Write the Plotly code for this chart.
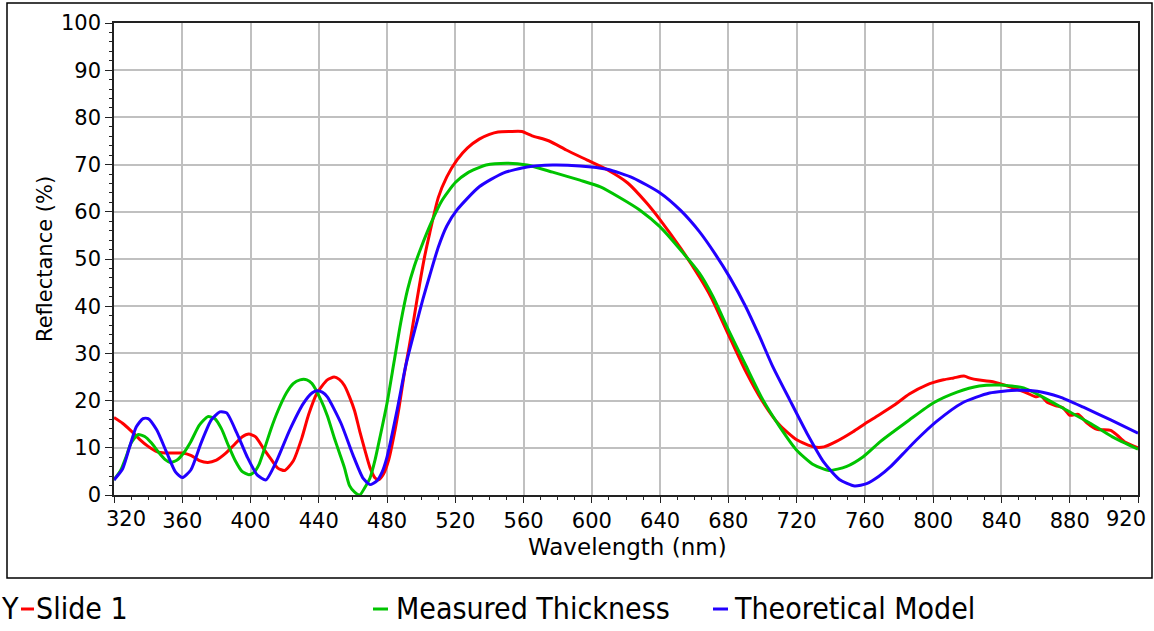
import plotly.graph_objects as go

# ---- data ----
slide1_x = [320, 325, 330, 335, 340, 345, 350, 355, 360, 365, 370, 375, 380, 385, 390, 395, 399, 403, 408, 412,
            416, 420, 425, 430, 434, 439, 445, 449, 452, 455, 458, 461, 464, 467, 470, 473, 475, 478, 481, 484,
            487, 490, 493, 496, 499, 502, 505, 510, 515, 521, 527, 534, 540, 545, 552, 559, 565, 575, 585, 597,
            609, 621, 632, 640, 652, 663, 670, 680, 690, 700, 710, 720, 730, 736, 743, 753, 760, 768, 777, 786,
            796, 806, 812, 818, 822, 826, 835, 845, 855, 860, 863, 867, 872, 876, 880, 885, 890, 896, 904, 908,
            912, 920]
slide1_y = [16.4, 15.2, 13.6, 11.8, 10.3, 9.2, 8.9, 8.9, 8.9, 8.4, 7.3, 6.9, 7.4, 8.7, 10.5, 12.3, 12.9, 12.3, 9.6, 7.6,
            5.7, 5.2, 7.2, 12.0, 17.0, 21.6, 24.4, 25.0, 24.5, 23.2, 20.8, 17.8, 13.5, 9.5, 5.8, 3.6, 3.2, 4.5, 7.5, 12.5,
            18.5, 25.5, 31.5, 38.0, 44.5, 50.5, 55.5, 63.0, 67.4, 71.0, 73.5, 75.4, 76.4, 76.9, 77.0, 77.0, 76.1, 75.0, 73.1, 71.0,
            68.9, 66.1, 61.9, 58.3, 52.3, 46.2, 41.8, 34.0, 26.3, 19.8, 14.8, 11.7, 10.2, 10.2, 11.3, 13.4, 15.1, 16.9, 19.0, 21.4,
            23.3, 24.4, 24.8, 25.2, 24.7, 24.4, 24.0, 22.9, 21.6, 20.8, 21.0, 19.6, 18.9, 18.5, 16.9, 17.1, 15.3, 13.9, 13.7, 12.6,
            11.3, 10.0]

measured_x = [320, 324, 327, 330, 334, 338, 342, 346, 350, 353, 357, 361, 365, 370, 375, 379, 383, 387, 391, 395,
              399, 402, 405, 408, 412, 416, 421, 425, 429, 433, 436, 441, 445, 449, 452, 455, 458, 461, 464, 467,
              470, 473, 476, 480, 484, 488, 492, 496, 500, 506, 512, 520, 527, 538, 550, 562, 577, 593, 605, 616,
              628, 640, 652, 663, 671, 680, 690, 700, 710, 720, 730, 739, 749, 759, 769, 777, 786, 800, 814, 827,
              839, 853, 864, 878, 892, 905, 920]
measured_y = [3.2, 5.3, 8.0, 11.0, 12.8, 12.4, 11.0, 9.1, 7.5, 6.9, 7.4, 9.0, 11.3, 14.8, 16.6, 16.2, 14.0, 10.5, 7.3, 5.0,
              4.3, 4.8, 6.5, 9.6, 14.0, 17.8, 21.6, 23.6, 24.4, 24.4, 23.6, 20.3, 16.8, 12.2, 9.0, 5.8, 2.0, 0.6, 0.0, 1.6,
              3.6, 7.5, 12.5, 19.5, 28.0, 36.5, 43.5, 48.5, 52.5, 57.8, 62.3, 66.2, 68.2, 69.9, 70.3, 69.9, 68.4, 66.7, 65.3, 63.1,
              60.4, 56.8, 51.9, 47.0, 42.0, 35.0, 27.6, 20.3, 14.5, 9.5, 6.4, 5.2, 6.0, 8.1, 11.3, 13.5, 15.9, 19.5, 21.8, 23.1,
              23.3, 22.7, 20.8, 18.0, 15.2, 12.3, 9.7]

model_x = [320, 325, 329, 333, 337, 340, 345, 351, 356, 360, 365, 371, 377, 382, 386, 392, 398, 404, 409, 415,
           423, 431, 436, 439, 442, 445, 453, 460, 466, 470, 474, 477, 480, 486, 491, 497, 501, 505, 510, 515,
           521, 534, 548, 562, 577, 593, 609, 624, 640, 652, 663, 672, 681, 690, 698, 706, 716, 726, 736,
           745, 754, 761, 768, 775, 782, 790, 802, 817, 833, 849, 861, 874, 888, 904, 920]
model_y = [3.2, 5.5, 10.0, 14.4, 16.2, 16.2, 13.8, 8.9, 4.9, 3.7, 5.3, 11.0, 15.9, 17.6, 17.4, 13.1, 8.1, 4.2, 3.2, 7.0,
           13.8, 19.4, 21.6, 22.1, 21.8, 20.8, 15.2, 8.5, 3.5, 2.2, 3.0, 4.8, 8.1, 18.2, 27.5, 36.0, 41.5, 46.5, 52.5, 57.0,
           60.4, 65.3, 68.2, 69.5, 69.9, 69.7, 69.0, 67.2, 64.0, 60.3, 55.8, 51.2, 46.0, 40.0, 33.8, 27.2, 20.1, 13.1, 6.9,
           3.3, 1.9, 2.4, 3.9, 6.0, 8.6, 11.6, 15.6, 19.5, 21.6, 22.2, 22.0, 20.8, 18.6, 15.9, 13.1]

series_names = ["Slide 1", "Measured Thickness", "Theoretical Model"]
series_colors = ["#ff0000", "#00c400", "#2200ff"]

x_ticks = list(range(320, 921, 40))
y_ticks = list(range(0, 101, 10))

FONT = "DejaVu Sans, Verdana, sans-serif"
LEG_FONT = "DejaVu Sans Condensed, Liberation Sans Narrow, sans-serif"

fig = go.Figure()
for xs, ys, name, col in zip([slide1_x, measured_x, model_x], [slide1_y, measured_y, model_y],
                             series_names, series_colors):
    fig.add_trace(go.Scatter(x=xs, y=ys, mode="lines", name=name,
                             line=dict(color=col, width=3, shape="spline", smoothing=0.6),
                             showlegend=False, hoverinfo="x+y+name"))

W, H = 1154, 631
L, R, T, B = 114, 16, 23, 136
pw, ph = W - L - R, H - T - B


def px(xp):
    return (xp - L) / pw


def py(yp):
    return (H - B - yp) / ph


# the first and last x labels are pulled inwards in the reference, so they are drawn separately
x_ticktext = ["" if v in (x_ticks[0], x_ticks[-1]) else str(v) for v in x_ticks]

fig.update_layout(
    width=W, height=H, autosize=False,
    margin=dict(l=L, r=R, t=T, b=B, pad=0),
    paper_bgcolor="white", plot_bgcolor="white",
    font=dict(family=FONT, color="black"),
    xaxis=dict(range=[320, 920], tickvals=x_ticks, ticktext=x_ticktext,
               showgrid=True, gridcolor="#c0c0c0", gridwidth=1.5,
               showline=True, linecolor="#222", linewidth=1.5, mirror=True,
               ticks="outside", ticklen=6, tickcolor="#222", tickwidth=1,
               tickfont=dict(size=21, family=FONT, color="black"),
               minor=dict(dtick=10, tick0=320, ticks="outside", ticklen=3, tickcolor="#222", showgrid=False),
               zeroline=False, fixedrange=True),
    yaxis=dict(range=[0, 100], tickvals=y_ticks, ticktext=[str(v) for v in y_ticks],
               showgrid=True, gridcolor="#c0c0c0", gridwidth=1.5,
               showline=True, linecolor="#222", linewidth=1.5, mirror=True,
               ticks="outside", ticklen=7, tickcolor="#222", tickwidth=1,
               tickfont=dict(size=21, family=FONT, color="black"),
               minor=dict(dtick=2, tick0=0, ticks="outside", ticklen=3, tickcolor="#222", showgrid=False),
               zeroline=False, fixedrange=True),
)

for val, cx in ((x_ticks[0], 125.5), (x_ticks[-1], 1126)):
    fig.add_annotation(text=str(val), xref="paper", yref="paper", x=px(cx), y=py(519),
                       showarrow=False, xanchor="center", yanchor="middle",
                       font=dict(size=21, family=FONT, color="black"))

# outer frame
fig.add_shape(type="rect", xref="paper", yref="paper",
              x0=px(7), x1=px(1152), y0=py(578), y1=py(3),
              line=dict(color="black", width=1.5), fillcolor="rgba(0,0,0,0)", layer="below")

# axis titles
fig.add_annotation(text="Wavelength (nm)", xref="paper", yref="paper", x=px(627), y=py(547),
                   showarrow=False, xanchor="center", yanchor="middle",
                   font=dict(size=23, family=FONT, color="black"))
fig.add_annotation(text="Reflectance (%)", xref="paper", yref="paper", x=px(45), y=0.5,
                   showarrow=False, xanchor="center", yanchor="middle", textangle=-90,
                   font=dict(size=21, family=FONT, color="black"))

# legend (below the frame)
leg_y = py(608)
fig.add_annotation(text="Y", xref="paper", yref="paper", x=px(-1), y=leg_y, showarrow=False,
                   xanchor="left", yanchor="middle", font=dict(size=30, family=LEG_FONT, color="black"))
leg_lines = [(21, 34), (373, 388), (713, 728)]
leg_text_x = [34, 394, 732]
for (a, b), tx, name, col in zip(leg_lines, leg_text_x, series_names, series_colors):
    fig.add_shape(type="line", xref="paper", yref="paper", x0=px(a), x1=px(b), y0=py(609), y1=py(609),
                  line=dict(color=col, width=3))
    fig.add_annotation(text=name, xref="paper", yref="paper", x=px(tx), y=leg_y, showarrow=False,
                       xanchor="left", yanchor="middle", font=dict(size=30, family=LEG_FONT, color="black"))

fig.write_html("out.html", config={"displayModeBar": False})
